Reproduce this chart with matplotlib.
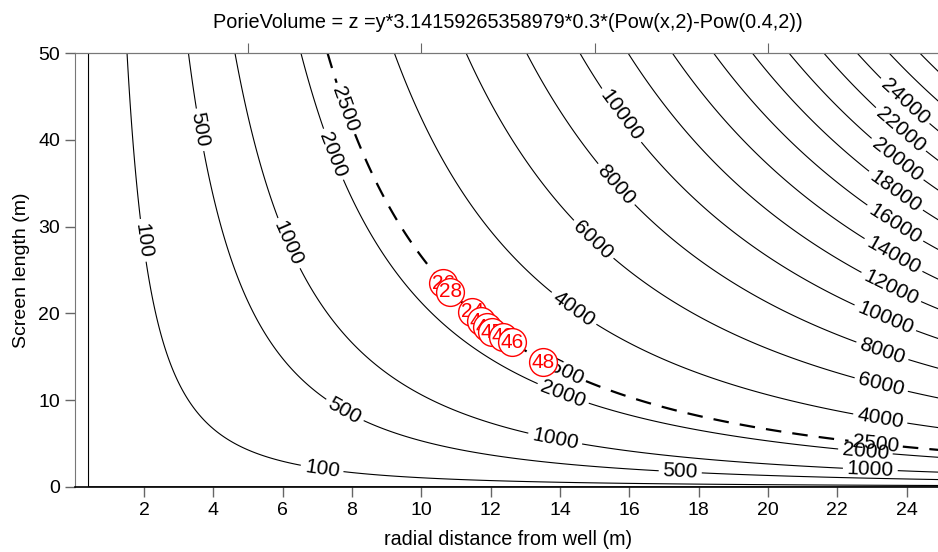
import numpy as np
import matplotlib
matplotlib.use("Agg")
import matplotlib.pyplot as plt

plt.rcParams['font.family'] = ['Liberation Sans', 'DejaVu Sans']

# grid ranges of the surface z = y*pi*0.3*(x^2 - 0.4^2)
x_range = (0.0, 25.0)
y_range = (0.0, 50.0)
r_well = 0.4
porosity = 0.3

zero_level = [0]
solid_levels = [100, 500, 1000, 2000, 4000, 6000, 8000, 10000, 12000, 14000,
                16000, 18000, 20000, 22000, 24000, 26000, 28000, 30000]
dashed_levels = [2500]

# sample points (red circles)
pt_x = [10.63, 10.83, 11.47, 11.73, 11.90, 12.04, 12.36, 12.62, 13.51]
pt_y = [23.5, 22.5, 20.2, 19.1, 18.4, 17.85, 17.3, 16.7, 14.4]
pt_lbl = ["26", "28", "24", "44", "47", "45", "49", "46", "48"]

# where the contour labels sit (data coords)
solid_label_pos = [
    (2.12, 28.5), (7.14, 2.2),
    (3.53, 41.1), (7.8, 8.9), (17.47, 1.96),
    (6.07, 27.9), (13.87, 5.76), (22.95, 1.96),
    (7.37, 38.2), (14.15, 11.4), (22.8, 3.7),
    (14.3, 20.0), (23.24, 7.95),
    (14.96, 28.5), (23.24, 11.4),
    (15.6, 34.8), (23.24, 15.0),
    (15.97, 43.4), (23.3, 18.7),
    (23.5, 22.6), (23.6, 26.6), (23.7, 30.6),
    (23.7, 34.2), (23.7, 37.6), (23.7, 40.6), (23.75, 43.6),
]
dashed_label_pos = [(8.09, 44.0), (14.0, 13.25), (23.1, 4.84)]

x = np.linspace(x_range[0], x_range[1], 600)
y = np.linspace(y_range[0], y_range[1], 500)
X, Y = np.meshgrid(x, y)
Z = Y * 3.14159265358979 * porosity * (X**2 - r_well**2)

fig = plt.figure(figsize=(9.38, 5.52), dpi=100)
ax = fig.add_axes([0.0796, 0.1178, 0.924, 0.786])

ax.contour(X, Y, Z, levels=zero_level, colors='black', linewidths=0.8)
cs = ax.contour(X, Y, Z, levels=solid_levels, colors='black', linewidths=0.8)
cd = ax.contour(X, Y, Z, levels=dashed_levels, colors='black', linewidths=1.6,
                linestyles=[(0, (7, 5))])

ax.clabel(cs, manual=solid_label_pos, fmt='%d', fontsize=15, inline=True,
          inline_spacing=4)
ax.clabel(cd, manual=dashed_label_pos, fmt='%d', fontsize=15, inline=True,
          inline_spacing=4)

for px, py, lb in zip(pt_x, pt_y, pt_lbl):
    ax.plot(px, py, 'o', ms=20, mfc='white', mec='red', mew=1.0, zorder=5)
    ax.text(px, py, lb, color='red', fontsize=15, ha='center', va='center',
            zorder=5)

ax.set_xlim(*x_range)
ax.set_ylim(*y_range)
ax.set_xticks(range(2, 25, 2))
ax.set_yticks(range(0, 51, 10))

ax.spines['right'].set_visible(False)
ax.spines['left'].set_color('#777777')
ax.spines['top'].set_color('#777777')
ax.spines['bottom'].set_color('black')
ax.spines['bottom'].set_linewidth(1.2)

ax.tick_params(axis='both', direction='out', length=7, width=1,
               color='#666666', labelsize=14)

sec = ax.secondary_xaxis('top')
sec.set_xticks([5, 10, 15, 20])
sec.set_xticklabels([])
sec.tick_params(direction='out', length=7, color='#666666')
sec.spines['top'].set_color('#777777')

ax.set_title("PorieVolume = z =y*3.14159265358979*0.3*(Pow(x,2)-Pow(0.4,2))",
             fontsize=14.3, pad=18)
ax.set_xlabel("radial distance from well (m)", fontsize=14.2, labelpad=8)
ax.set_ylabel("Screen length (m)", fontsize=14, labelpad=6)

fig.savefig("out.png", dpi=100)
